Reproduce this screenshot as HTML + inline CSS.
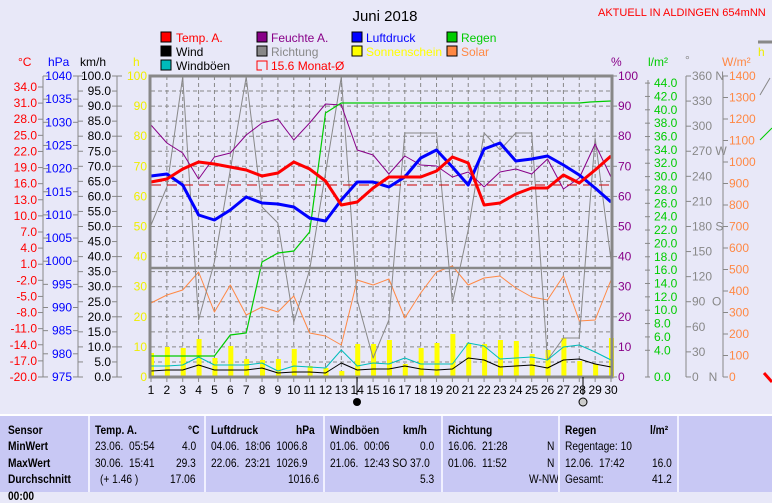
<!DOCTYPE html>
<html><head><meta charset="utf-8">
<style>
html,body{margin:0;padding:0;background:#e8e8f8;width:772px;height:490px;overflow:hidden;font-family:"Liberation Sans",sans-serif}
svg{position:absolute;left:0;top:0}
#tbl{position:absolute;left:0;top:414px;width:772px;height:76px;background:#c8c8f4;border-top:2px solid #fff}
.c{position:absolute;top:0;height:76px;border-left:2px solid #f0f0ff;font-size:12px;color:#000}
.r{position:absolute;white-space:nowrap;transform:scaleX(0.85);transform-origin:left}
.b{font-weight:bold}
</style></head><body>
<svg id="s" width="772" height="414" font-family="Liberation Sans, sans-serif" font-size="12">
<text x="385" y="21" font-size="15" text-anchor="middle">Juni 2018</text>
<text x="598" y="16" font-size="11" fill="#f00">AKTUELL IN ALDINGEN 654mNN</text>
<g font-size="12">
<rect x="161" y="32" width="10" height="10" fill="#f00" stroke="#000"/><text x="176" y="42" fill="#f00">Temp. A.</text>
<rect x="161" y="46" width="10" height="10" fill="#000" stroke="#000"/><text x="176" y="56">Wind</text>
<rect x="161" y="60" width="10" height="10" fill="#0bb" stroke="#000"/><text x="176" y="70">Windböen</text>
<rect x="257" y="32" width="10" height="10" fill="#808" stroke="#000"/><text x="271" y="42" fill="#808">Feuchte A.</text>
<rect x="257" y="46" width="10" height="10" fill="#888" stroke="#000"/><text x="271" y="56" fill="#888">Richtung</text>
<path d="M262 61H257V70H262M262 61H267V70" fill="none" stroke="#f00"/><text x="271" y="70" fill="#f00">15.6 Monat-Ø</text>
<rect x="352" y="32" width="10" height="10" fill="#00f" stroke="#000"/><text x="366" y="42" fill="#00f">Luftdruck</text>
<rect x="352" y="46" width="10" height="10" fill="#ff0" stroke="#000"/><text x="366" y="56" fill="#ff0">Sonnenschein</text>
<rect x="447" y="32" width="10" height="10" fill="#0c0" stroke="#000"/><text x="461" y="42" fill="#0c0">Regen</text>
<rect x="447" y="46" width="10" height="10" fill="#f84" stroke="#000"/><text x="461" y="56" fill="#f84">Solar</text>
</g>
<text x="18" y="66" fill="#f00">°C</text>
<text x="48" y="66" fill="#00f">hPa</text>
<text x="80" y="66">km/h</text>
<text x="133" y="66" fill="#ee0">h</text>
<text x="611" y="66" fill="#808">%</text>
<text x="648" y="66" fill="#0c0">l/m²</text>
<text x="685" y="64" fill="#888">°</text>
<text x="722" y="66" fill="#f84">W/m²</text>
<g id="g"></g>
<circle cx="357" cy="402" r="4" fill="#000"/>
<circle cx="583" cy="402" r="4" fill="#ccc" stroke="#000"/>
</svg>
<div id="tbl">
<div class="c" style="left:0;border:none">
<div class="r b" style="left:8px;top:7px">Sensor</div><div class="r b" style="left:8px;top:23px">MinWert</div><div class="r b" style="left:8px;top:40px">MaxWert</div><div class="r b" style="left:8px;top:56px">Durchschnitt</div><div class="r b" style="left:8px;top:73px">00:00</div></div>
<div class="c" style="left:88px;width:115px">
<div class="r b" style="left:5px;top:7px">Temp. A.</div><div class="r b" style="left:98px;top:7px">°C</div>
<div class="r" style="left:5px;top:23px">23.06.&nbsp; 05:54</div><div class="r" style="left:92px;top:23px">4.0</div>
<div class="r" style="left:5px;top:40px">30.06.&nbsp; 15:41</div><div class="r" style="left:86px;top:40px">29.3</div>
<div class="r" style="left:10px;top:56px">(+ 1.46 )</div><div class="r" style="left:80px;top:56px">17.06</div></div>
<div class="c" style="left:204px;width:117px">
<div class="r b" style="left:5px;top:7px">Luftdruck</div><div class="r b" style="left:90px;top:7px">hPa</div>
<div class="r" style="left:5px;top:23px">04.06.&nbsp; 18:06&nbsp; 1006.8</div>
<div class="r" style="left:5px;top:40px">22.06.&nbsp; 23:21&nbsp; 1026.9</div>
<div class="r" style="left:82px;top:56px">1016.6</div></div>
<div class="c" style="left:323px;width:116px">
<div class="r b" style="left:5px;top:7px">Windböen</div><div class="r b" style="left:78px;top:7px">km/h</div>
<div class="r" style="left:5px;top:23px">01.06.&nbsp; 00:06</div><div class="r" style="left:95px;top:23px">0.0</div>
<div class="r" style="left:5px;top:40px">21.06.&nbsp; 12:43 SO 37.0</div>
<div class="r" style="left:95px;top:56px">5.3</div></div>
<div class="c" style="left:441px;width:115px">
<div class="r b" style="left:5px;top:7px">Richtung</div>
<div class="r" style="left:5px;top:23px">16.06.&nbsp; 21:28</div><div class="r" style="left:104px;top:23px">N</div>
<div class="r" style="left:5px;top:40px">01.06.&nbsp; 11:52</div><div class="r" style="left:104px;top:40px">N</div>
<div class="r" style="left:86px;top:56px">W-NW</div></div>
<div class="c" style="left:558px;width:117px">
<div class="r b" style="left:5px;top:7px">Regen</div><div class="r b" style="left:90px;top:7px">l/m²</div>
<div class="r" style="left:5px;top:23px">Regentage: 10</div>
<div class="r" style="left:5px;top:40px">12.06.&nbsp; 17:42</div><div class="r" style="left:92px;top:40px">16.0</div>
<div class="r" style="left:5px;top:56px">Gesamt:</div><div class="r" style="left:92px;top:56px">41.2</div></div>
<div class="c" style="left:677px;width:95px"></div>
</div>
<script>
var g=document.getElementById('g'),h='';
function X(d){return 151+(d-1)*15.862;}
function ln(x1,y1,x2,y2,c,w,da){h+='<line x1="'+x1+'" y1="'+y1+'" x2="'+x2+'" y2="'+y2+'" stroke="'+c+'" stroke-width="'+(w||1)+'"'+(da?' stroke-dasharray="'+da+'"':'')+'/>';}
function tx(x,y,t,c,a){h+='<text x="'+x+'" y="'+y+'" fill="'+c+'" text-anchor="'+(a||'start')+'">'+t+'</text>';}
function pl(a,c,w){var p=a.map(function(v,i){return X(i+1).toFixed(1)+','+v;}).join(' ');h+='<polyline points="'+p+'" fill="none" stroke="'+c+'" stroke-width="'+w+'" stroke-linejoin="round"/>';}
for(var i=1;i<20;i++){var y=76+i*15.05;ln(151,y,611,y,'#888',1,'4,3');}
for(var d=2;d<30;d++)ln(X(d),76,X(d),377,'#888',1,'4,3');
ln(43,76,43,377,'#888');ln(78,76,78,377,'#888');ln(117,76,117,377,'#888');
for(i=0;i<19;i++){var y=87+i*16.11;ln(38,y,43,y,'#888');tx(37,y+4,(34-3*i).toFixed(1),'#f00','end');}
for(i=0;i<14;i++){var y=76+i*23.15;ln(43,y,48,y,'#888');ln(73,y,78,y,'#888');tx(72,y+4,1040-5*i,'#00f','end');}
for(i=0;i<21;i++){var y=76+i*15.05;ln(78,y,83,y,'#888');ln(112,y,117,y,'#888');tx(111,y+4,(100-5*i).toFixed(1),'#000','end');}
for(i=0;i<11;i++){var y=76+i*30.1;ln(117,y,122,y,'#888');tx(147,y+4,100-10*i,'#ee0','end');ln(611,y,617,y,'#888');tx(618,y+4,100-10*i,'#808');}
ln(648,80,648,377,'#888');ln(686,76,686,377,'#888');ln(723,76,723,377,'#888');
for(var v=4;v<=44;v+=2){var y=377-v*6.68;ln(645,y,650,y,'#888');tx(654,y+4,v.toFixed(1),'#0c0');}
ln(645,377,650,377,'#888');tx(654,381,'0.0','#0c0');
var dn={360:' N',270:' W',180:' S',90:'&#160;&#160;O',0:'&#160;&#160;&#160;N'};
for(i=0;i<13;i++){var y=76+i*25.08,v=360-30*i;ln(686,y,691,y,'#888');tx(692,y+4,v+(dn[v]||''),'#888');}
for(i=0;i<15;i++){var y=76+i*21.5;ln(723,y,728,y,'#888');tx(729,y+4,1400-100*i,'#f84');}
var sb=[353,347,348,339,358,346,359,360,359,349,366,368,371,344,344,340,364,348,343,334,343,344,340,341,354,350,338,361,364,338];
sb.forEach(function(t,i){var x=X(i+1);h+='<rect x="'+(x-2)+'" y="'+t+'" width="5" height="'+(377-t)+'" fill="#ff0"/>';});
pl([303,295,290,272,312,285,315,307,312,296,333,336,345,280,285,279,318,293,272,266,285,278,276,288,297,300,276,321,320,280],'#f84',1);
pl([225,187,77,320,262,170,77,207,223,322,270,173,77,300,358,320,133,133,133,303,230,133,150,133,133,360,338,338,138,260],'#888',1);
pl([366,366,365,357,365,365,365,363,371,366,367,368,350,366,363,364,358,364,364,364,343,346,359,358,357,360,347,345,352,360],'#0bb',1);
pl([371,370,370,365,370,370,370,368,373,372,372,373,363,370,369,369,366,369,370,369,358,360,367,366,365,368,360,359,364,367],'#000',1);
pl([125,143,153,179,157,153,135,123,119,140,123,104,105,150,155,174,156,165,166,177,172,187,172,169,174,159,189,178,144,177],'#808',1);
h+='<polyline points="151,356 214.4,356 230.3,335 246.2,333 262,262 277.9,253 293.8,251 309.6,232 325.5,113 341.3,103 579.3,103 590,102 611,101" fill="none" stroke="#0c0" stroke-width="1.2"/>';
ln(151,185,611,185,'#c00',1,'10,6');
pl([176,174,185,215,220,210,197,203,204,207,218,221,200,182,182,187,177,158,150,167,185,149,143,161,159,156,165,175,188,202],'#00f',3);
pl([182,179,169,162,164,167,170,176,173,162,169,181,205,202,188,177,177,177,171,157,163,205,203,194,188,188,175,183,170,156],'#f00',3);
ln(151,268,611,268,'#888',2.5);
h+='<rect x="150" y="76" width="462" height="301" fill="none" stroke="#888" stroke-width="3"/>';
for(d=1;d<=30;d++){ln(X(d),377,X(d),382,'#888');tx(X(d),394,d,'#000','middle');}
ln(357,377,357,395,'#000');ln(583,377,583,395,'#000');
ln(758,42,772,42,'#888',3);tx(758,56,'h','#ee0');
h+='<polyline points="760,95 770,78" stroke="#888" fill="none"/><polyline points="760,140 772,128" stroke="#0c0" fill="none"/><polyline points="764,373 772,382" stroke="#f00" stroke-width="3" fill="none"/>';
g.innerHTML=h;
</script>
</body></html>
